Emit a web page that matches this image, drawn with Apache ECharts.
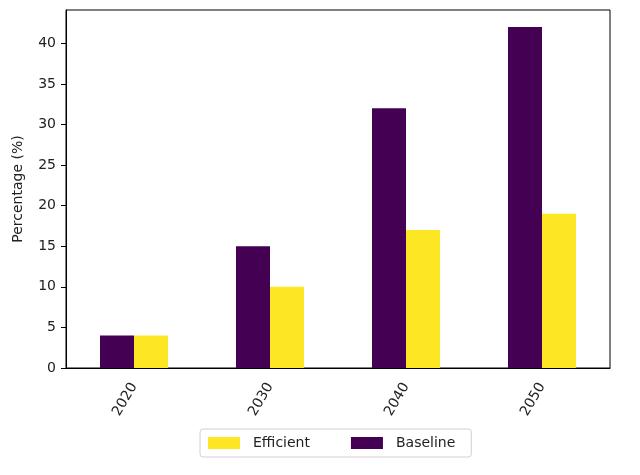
<!DOCTYPE html>
<html>
<head>
<meta charset="utf-8">
<script src="https://cdn.jsdelivr.net/npm/echarts@6/dist/echarts.min.js"></script>
<style>
  html, body { margin: 0; padding: 0; background: #fff; }
  #chart { width: 640px; height: 475px; }
</style>
</head>
<body>
<div id="chart"></div>
<script>
// data
var years = ['2020', '2030', '2040', '2050'];
var baseline = [4, 15, 32, 42];
var efficient = [4, 10, 17, 19];
var yTicks = [0, 5, 10, 15, 20, 25, 30, 35, 40];

var font = 'DejaVu Sans';
var myChart = echarts.init(document.getElementById('chart'));

myChart.setOption({
    animation: false,
    textStyle: { fontFamily: font },
    grid: {
        left: 66,
        right: 30,
        top: 10,
        bottom: 107,
        show: true,
        borderColor: '#000',
        borderWidth: 1
    },
    legend: {
        data: ['Efficient', 'Baseline'],
        bottom: 18,
        left: 200,
        itemWidth: 32,
        itemHeight: 12,
        itemGap: 41,
        padding: [7, 16, 7, 8],
        borderColor: '#d0d0d0',
        borderWidth: 1,
        borderRadius: 3,
        textStyle: { fontFamily: font, fontSize: 14, color: '#222', padding: [0, 0, 0, 8] },
        icon: 'rect'
    },
    xAxis: {
        type: 'category',
        data: years,
        axisLine: { lineStyle: { color: '#000', width: 1 } },
        axisTick: { alignWithLabel: true, length: 5, lineStyle: { color: '#000' } },
        axisLabel: { rotate: 60, fontSize: 14, color: '#222', fontFamily: font, margin: 16 }
    },
    yAxis: {
        type: 'value',
        min: 0,
        max: 44.1,
        interval: 5,
        name: 'Percentage (%)',
        nameLocation: 'middle',
        nameGap: 41,
        nameTextStyle: { fontSize: 14, color: '#222', fontFamily: font },
        splitLine: { show: false },
        axisLine: { show: true, lineStyle: { color: '#000', width: 1 } },
        axisTick: { show: true, length: 5, lineStyle: { color: '#000' } },
        axisLabel: {
            fontSize: 14, color: '#222', fontFamily: font, margin: 10,
            showMaxLabel: false,
            formatter: function (v) { return yTicks.indexOf(v) >= 0 ? String(v) : ''; }
        }
    },
    series: [
        {
            name: 'Baseline',
            type: 'bar',
            data: baseline,
            barWidth: '25%',
            barGap: '0%',
            itemStyle: { color: '#440154' }
        },
        {
            name: 'Efficient',
            type: 'bar',
            data: efficient,
            barWidth: '25%',
            barGap: '0%',
            itemStyle: { color: '#fde725' }
        }
    ]
});
</script>
</body>
</html>
